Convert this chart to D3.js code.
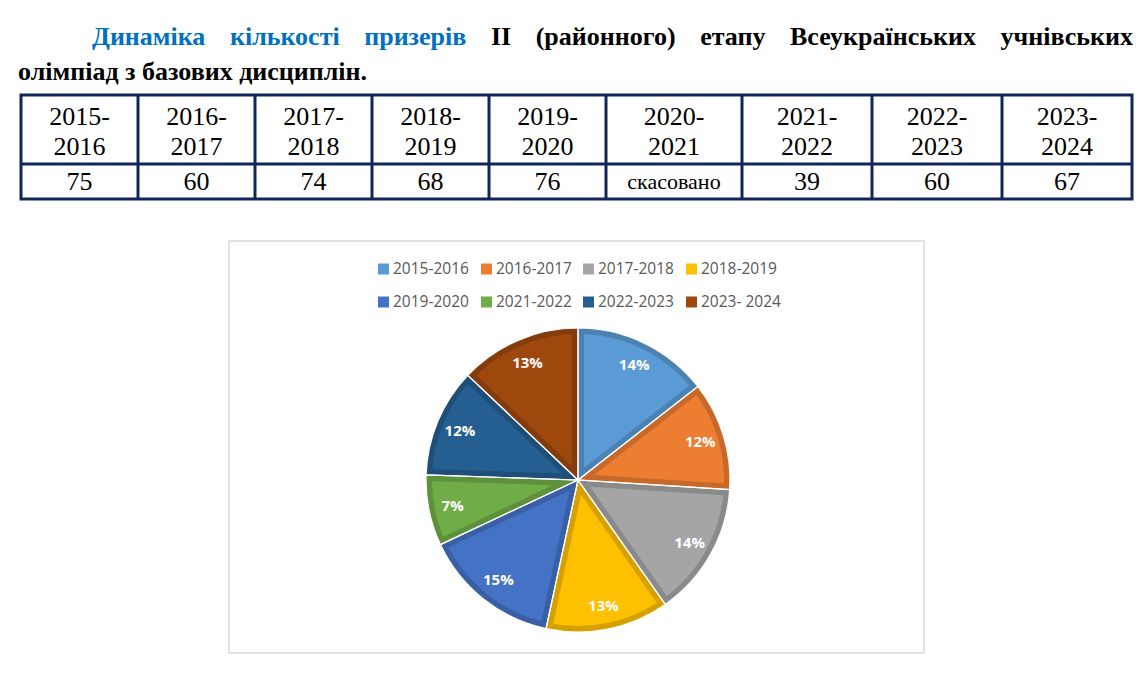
<!DOCTYPE html>
<html>
<head>
<meta charset="utf-8">
<script src="https://cdn.jsdelivr.net/npm/d3@7"></script>
<style>
  body { margin: 0; background: #fff; }
  svg { display: block; }
</style>
</head>
<body>
<svg id="svg" width="1143" height="675"></svg>
<script>
// data
const titleBlue = ['Динаміка', 'кількості', 'призерів']
const titleBlack = ['II', '(районного)', 'етапу', 'Всеукраїнських', 'учнівських']
const titleLine2 = 'олімпіад з базових дисциплін.'

const seasons = ['2015-2016', '2016-2017', '2017-2018', '2018-2019', '2019-2020', '2020-2021', '2021-2022', '2022-2023', '2023-2024']
const tableValues = ['75', '60', '74', '68', '76', 'скасовано', '39', '60', '67']

const pieLabels = ['2015-2016', '2016-2017', '2017-2018', '2018-2019', '2019-2020', '2021-2022', '2022-2023', '2023- 2024']
const pieValues = [75, 60, 74, 68, 76, 39, 60, 67]
const pieShares = ['14%', '12%', '14%', '13%', '15%', '7%', '12%', '13%']
const pieColors = ['#5b9bd5', '#ed7d31', '#a5a5a5', '#ffc000', '#4472c4', '#70ad47', '#255e91', '#9e480e']

// layout
const colX = [21, 138, 255, 372, 489, 606, 742, 872, 1002, 1132]
const serifFont = 'Liberation Serif'
const sansFont = 'Open Sans'

const svg = d3.select('#svg')

// ---- title (first line justified like in the document)
const words = titleBlue.map(w => ({ w, c: '#0070c0' })).concat(titleBlack.map(w => ({ w, c: '#000' })))
const wordNodes = svg.append('g').selectAll('text').data(words).enter().append('text')
  .attr('y', 45)
  .attr('fill', d => d.c)
  .style('font-family', serifFont).style('font-weight', 'bold').style('font-size', '26px')
  .text(d => d.w)
const widths = wordNodes.nodes().map(n => n.getComputedTextLength())
const gap = (1133 - 92 - d3.sum(widths)) / (words.length - 1)
let cx = 92
wordNodes.attr('x', (d, i) => { const x = cx; cx += widths[i] + gap; return x })

svg.append('text')
  .attr('x', 18).attr('y', 80)
  .style('font-family', serifFont).style('font-weight', 'bold').style('font-size', '26px')
  .text(titleLine2)

// ---- table
const table = svg.append('g')
const cells = table.selectAll('g').data(seasons).enter().append('g')
cells.append('text')
  .attr('x', (d, i) => (colX[i] + colX[i + 1]) / 2)
  .attr('text-anchor', 'middle')
  .style('font-family', serifFont).style('font-size', '26px')
  .selectAll('tspan').data(d => { const p = d.split('-'); return [p[0] + '-', p[1]] })
  .enter().append('tspan')
  .attr('x', function () { return this.parentNode.getAttribute('x') })
  .attr('y', (d, j) => j ? 155 : 125)
  .text(d => d)
cells.append('text')
  .attr('x', (d, i) => (colX[i] + colX[i + 1]) / 2)
  .attr('y', (d, i) => isNaN(+tableValues[i]) ? 189 : 190)
  .attr('text-anchor', 'middle')
  .style('font-family', serifFont)
  .style('font-size', (d, i) => isNaN(+tableValues[i]) ? '22px' : '26px')
  .text((d, i) => tableValues[i])

const line = '#10265a'
table.append('rect')
  .attr('x', colX[0]).attr('y', 95)
  .attr('width', colX[colX.length - 1] - colX[0]).attr('height', 104)
  .attr('fill', 'none').attr('stroke', line).attr('stroke-width', 3)
table.append('line')
  .attr('x1', colX[0]).attr('x2', colX[colX.length - 1])
  .attr('y1', 164).attr('y2', 164)
  .attr('stroke', line).attr('stroke-width', 3)
table.selectAll('.vline').data(colX.slice(1, -1)).enter().append('line')
  .attr('x1', d => d).attr('x2', d => d)
  .attr('y1', 95).attr('y2', 199)
  .attr('stroke', line).attr('stroke-width', 3)

// ---- chart box
svg.append('rect')
  .attr('x', 229).attr('y', 241).attr('width', 695).attr('height', 412)
  .attr('fill', '#fff').attr('stroke', '#d9d9d9').attr('stroke-width', 1.5)

// legend
const legendX = [378, 481, 583, 686]
const items = svg.append('g').selectAll('g').data(pieLabels).enter().append('g')
  .attr('transform', (d, i) => `translate(${legendX[i % 4]},${i < 4 ? 269 : 302})`)
items.append('rect')
  .attr('x', 0).attr('y', -5.5).attr('width', 11).attr('height', 11)
  .attr('fill', (d, i) => pieColors[i])
items.append('text')
  .attr('x', 15).attr('dy', '0.35em')
  .attr('fill', '#595959')
  .style('font-family', sansFont).style('font-size', '15.5px')
  .text(d => d)

// pie
const r = 152
const pie = d3.pie().sort(null).value(d => d)
const arcs = pie(pieValues)
const arc = d3.arc().innerRadius(0).outerRadius(r)
const labelArc = d3.arc().innerRadius(128).outerRadius(128)

const g = svg.append('g').attr('transform', 'translate(578,480)')
const defs = svg.append('defs')
defs.selectAll('clipPath').data(arcs).enter().append('clipPath')
  .attr('id', (d, i) => 'slice' + i)
  .append('path').attr('d', arc)

g.selectAll('.slice').data(arcs).enter().append('path')
  .attr('class', 'slice')
  .attr('d', arc)
  .attr('fill', (d, i) => pieColors[i])
  .attr('stroke', (d, i) => d3.color(pieColors[i]).darker(0.5))
  .attr('stroke-width', 12)
  .attr('stroke-linejoin', 'miter')
  .attr('clip-path', (d, i) => `url(#slice${i})`)

g.selectAll('.sep').data(arcs).enter().append('path')
  .attr('class', 'sep')
  .attr('d', arc)
  .attr('fill', 'none')
  .attr('stroke', '#fff')
  .attr('stroke-width', 1.2)

g.selectAll('.lbl').data(arcs).enter().append('text')
  .attr('class', 'lbl')
  .attr('transform', d => `translate(${labelArc.centroid(d)})`)
  .attr('text-anchor', 'middle')
  .attr('dy', '0.35em')
  .attr('fill', '#fff')
  .style('font-family', sansFont).style('font-weight', 'bold').style('font-size', '15px')
  .text((d, i) => pieShares[i])
</script>
</body>
</html>
